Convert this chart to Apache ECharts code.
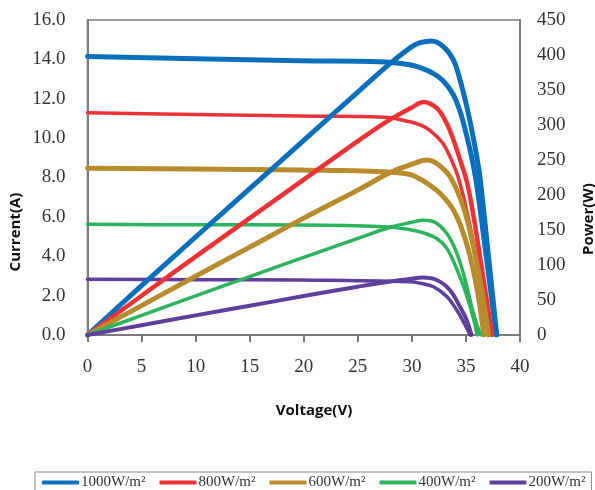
<!DOCTYPE html>
<html>
<head>
<meta charset="utf-8">
<script src="https://cdn.jsdelivr.net/npm/echarts@6/dist/echarts.min.js"></script>
<style>html,body{margin:0;padding:0;background:#fff}#c{width:595px;height:490px}</style>
</head>
<body>
<div id="c"></div>
<script>
// Legend names
const irradiance = ['1000W/m²', '800W/m²', '600W/m²', '400W/m²', '200W/m²'];
// Axis ticks
const xTicks = [0, 5, 10, 15, 20, 25, 30, 35, 40];
const currentTicks = [0, 2, 4, 6, 8, 10, 12, 14, 16];
const powerTicks = [0, 50, 100, 150, 200, 250, 300, 350, 400, 450];

// I-V curves: [voltage, current]
const iv1000 = [[0,14.15],[10,14.03],[19.66,13.93],[27,13.88],[29.8,13.73],[30.76,13.58],[32.0,13.28],[32.91,12.9],[33.84,12.2],[34.46,11.35],[35.08,10.1],[35.54,9.0],[36.0,7.6],[36.85,4.1],[37.8,0]];
const iv800  = [[0,11.29],[10,11.2],[19.66,11.12],[27.36,11.06],[29.83,10.83],[30.76,10.67],[31.38,10.5],[32.0,10.24],[32.91,9.7],[33.69,8.85],[34.35,7.9],[35.2,6.0],[36.0,3.9],[37.35,0]];
const iv600  = [[0,8.47],[10,8.43],[19.66,8.38],[27.4,8.29],[29.83,8.15],[30.76,7.92],[31.5,7.67],[32.6,7.2],[33.84,6.35],[34.76,5.16],[35.54,3.64],[36.15,1.95],[36.65,0]];
const iv400  = [[0,5.62],[10,5.6],[19.66,5.59],[27.36,5.5],[29.83,5.35],[31.0,5.2],[32.3,4.9],[33.23,4.4],[34.15,3.35],[34.92,2.25],[35.54,1.15],[36.05,0]];
const iv200  = [[0,2.83],[10,2.81],[19.66,2.79],[29.83,2.71],[30.76,2.63],[32.0,2.45],[33.23,1.95],[34.15,1.27],[34.92,0.51],[35.38,0]];

// P-V curves: [voltage, power]
const pv1000 = [[0,0],[5,70.5],[10,140],[15,209],[20,278],[25,347],[28,388],[30,412],[30.76,417.6],[31.84,420],[32.91,412],[33.84,393],[34.46,364],[35.08,326],[35.54,293],[36.0,255],[36.31,224],[37.1,110],[37.85,0]];
const pv800  = [[0,0],[5,56],[10,112],[15,167],[20,222],[25,277],[28,308],[30,325],[31.06,333],[32.3,324],[33.23,302],[33.84,279],[34.46,250],[35.1,218],[35.7,170],[36.3,112],[36.9,52],[37.42,0]];
const pv600  = [[0,0],[5,42],[10,84],[15,125.5],[20,167],[25,207],[28,232],[30,244],[31.4,250],[32.3,245],[33.53,226],[34.76,183],[35.69,126],[36.47,64],[37.08,0]];
const pv400  = [[0,0],[5,28],[10,56],[15,83.5],[20,111],[25,138],[28,154],[30,161],[31.07,164],[32.0,162],[33.23,145],[34.15,117],[34.92,79],[35.69,31],[36.35,0]];
const pv200  = [[0,0],[5,14],[10,28],[15,41.8],[20,55.6],[25,69],[28,76.5],[30,80.5],[31,82],[32.3,78.6],[33.53,64],[34.46,40],[35.08,21],[35.5,0]];

const colors = ['#0a70bd', '#ee3135', '#b88c2c', '#2bb45c', '#5f3f9b'];
const ivSets = [iv1000, iv800, iv600, iv400, iv200];
const pvSets = [pv1000, pv800, pv600, pv400, pv200];
const ivWidths = [5, 3.5, 5, 3.5, 3.5];
const pvWidths = [5, 4.5, 5, 3.5, 4];

const series = [];
for (let k = 0; k < 5; k++) {
  series.push({
    name: irradiance[k], type: 'line', yAxisIndex: 0, data: ivSets[k],
    showSymbol: false, symbol: 'none', smooth: 0.4,
    lineStyle: { color: colors[k], width: ivWidths[k], cap: 'round', join: 'round' },
    itemStyle: { color: colors[k] }, z: 2, animation: false
  });
  series.push({
    name: irradiance[k], type: 'line', yAxisIndex: 1, data: pvSets[k],
    showSymbol: false, symbol: 'none', smooth: 0.4,
    lineStyle: { color: colors[k], width: pvWidths[k], cap: 'round', join: 'round' },
    itemStyle: { color: colors[k] }, z: 3, animation: false
  });
}

const serif = '"Liberation Serif", "Times New Roman", serif';
const sans = '"Open Sans", "Noto Sans", sans-serif';
const axisGray = '#7a7a7a';

const chart = echarts.init(document.getElementById('c'), null, { renderer: 'canvas' });
chart.setOption({
  animation: false,
  backgroundColor: '#fff',
  grid: { left: 87.5, right: 75, top: 20, bottom: 155, show: true, borderColor: axisGray, borderWidth: 1.5, containLabel: false },
  xAxis: {
    type: 'value', min: xTicks[0], max: xTicks[xTicks.length - 1], interval: 5,
    axisLine: { show: true, lineStyle: { color: axisGray, width: 2 } },
    axisTick: { show: true, length: 7, lineStyle: { color: axisGray, width: 2 } },
    splitLine: { show: false },
    axisLabel: { fontFamily: serif, fontSize: 19, color: '#333', margin: 23 }
  },
  yAxis: [
    {
      type: 'value', min: currentTicks[0], max: currentTicks[currentTicks.length - 1], interval: 2,
      axisLine: { show: true, lineStyle: { color: axisGray, width: 2 } },
      axisTick: { show: false }, splitLine: { show: false },
      axisLabel: { fontFamily: serif, fontSize: 19, color: '#333', margin: 22, formatter: v => v.toFixed(1) }
    },
    {
      type: 'value', min: powerTicks[0], max: powerTicks[powerTicks.length - 1], interval: 50,
      axisLine: { show: true, lineStyle: { color: axisGray, width: 2 } },
      axisTick: { show: false }, splitLine: { show: false },
      axisLabel: { fontFamily: serif, fontSize: 19, color: '#333', margin: 17 }
    }
  ],
  legend: {
    data: irradiance, left: 35, top: 472,
    icon: 'roundRect', itemWidth: 37, itemHeight: 4, itemGap: 14,
    padding: [3, 6, 12, 7],
    borderColor: '#888', borderWidth: 1,
    textStyle: { fontFamily: serif, fontSize: 15, color: '#333', padding: [0, 0, 0, -3] }
  },
  graphic: [
    { type: 'text', x: 16, y: 232, rotation: Math.PI / 2,
      style: { text: 'Current(A)', font: 'bold 15px ' + sans, fill: '#111', align: 'center', verticalAlign: 'middle' } },
    { type: 'text', x: 589, y: 219, rotation: Math.PI / 2,
      style: { text: 'Power(W)', font: 'bold 15px ' + sans, fill: '#111', align: 'center', verticalAlign: 'middle' } },
    { type: 'text', x: 314, y: 411,
      style: { text: 'Voltage(V)', font: 'bold 15px ' + sans, fill: '#111', align: 'center', verticalAlign: 'middle' } }
  ],
  series: series
});
</script>
</body>
</html>
